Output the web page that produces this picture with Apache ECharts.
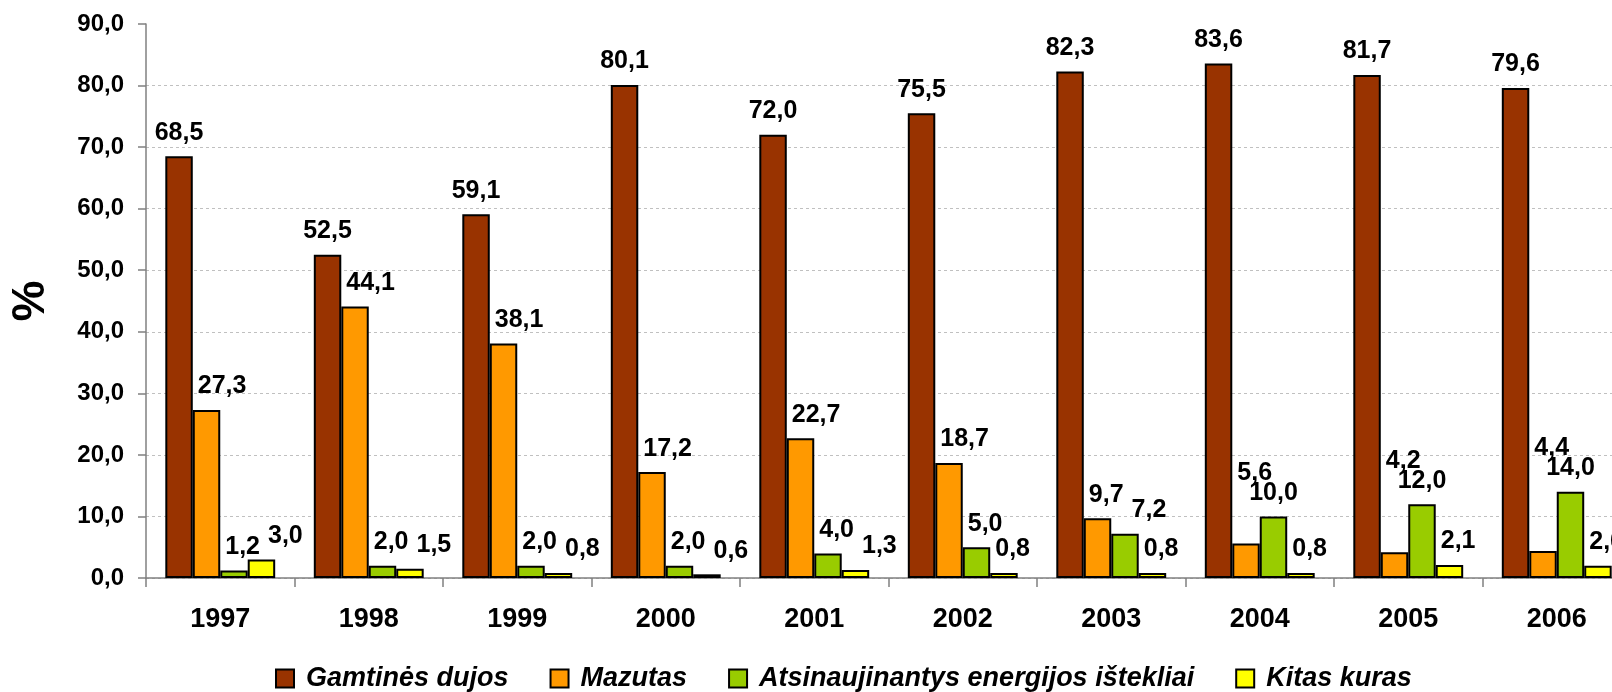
<!DOCTYPE html>
<html>
<head>
<meta charset="utf-8">
<script src="https://cdn.jsdelivr.net/npm/echarts@6/dist/echarts.min.js"></script>
<style>
  html, body { margin: 0; padding: 0; background: #ffffff; }
  #chart { width: 1612px; height: 692px; }
</style>
</head>
<body>
<div id="chart"></div>
<script>
const YEARS = ["1997", "1998", "1999", "2000", "2001", "2002", "2003", "2004", "2005", "2006"];
const GAS = [68.5, 52.5, 59.1, 80.1, 72.0, 75.5, 82.3, 83.6, 81.7, 79.6];
const MAZUT = [27.3, 44.1, 38.1, 17.2, 22.7, 18.7, 9.7, 5.6, 4.2, 4.4];
const RENEW = [1.2, 2.0, 2.0, 2.0, 4.0, 5.0, 7.2, 10.0, 12.0, 14.0];
const OTHER = [3.0, 1.5, 0.8, 0.6, 1.3, 0.8, 0.8, 0.8, 2.1, 2.0];
const Y_TICKS = [0, 10, 20, 30, 40, 50, 60, 70, 80, 90];

const NAMES = ["Gamtinės dujos", "Mazutas", "Atsinaujinantys energijos ištekliai", "Kitas kuras"];
const COLORS = ["#993300", "#ff9900", "#99cc00", "#ffff00"];
const SERIES_DATA = [GAS, MAZUT, RENEW, OTHER];

const FONT = '"Liberation Sans", Arial, sans-serif';
const LABEL_SIZE = 25;
const LABEL_DIST = 11;

// etiketės su kableliu
function fmt(v) {
  return Number(v).toFixed(1).replace(".", ",");
}

const chart = echarts.init(document.getElementById("chart"));
let shifts = SERIES_DATA.map(() => []);

function labelLayout(p) {
  const s = shifts[p.seriesIndex] && shifts[p.seriesIndex][p.dataIndex];
  return s ? { dx: s.dx, dy: s.dy } : {};
}

// Etikečių persidengimas: pirma pastumiam į dešinę nuo kairėje esančių
// stulpelių/etikečių, o jei dešinėje stovi aukštesnis stulpelis - keliam virš jo etiketės.
function computeShifts() {
  const model = chart.getModel();
  const ctx = document.createElement("canvas").getContext("2d");
  ctx.font = `bold ${LABEL_SIZE}px ${FONT}`;
  const H = 9, BAR_GAP = 5, LBL_GAP = 8, V_GAP = 2;
  const out = SERIES_DATA.map(() => []);

  YEARS.forEach((_, j) => {
    const bars = SERIES_DATA.map((_, i) => {
      const l = model.getSeriesByIndex(i).getData().getItemLayout(j);
      return { x0: l.x, x1: l.x + l.width, top: Math.min(l.y, l.y + l.height) };
    });
    const nat = bars.map((b, i) => {
      const w = ctx.measureText(fmt(SERIES_DATA[i][j])).width;
      const cx = (b.x0 + b.x1) / 2;
      return { x0: cx - w / 2, x1: cx + w / 2, cy: b.top - LABEL_DIST - LABEL_SIZE / 2 };
    });
    const placed = [];
    const overlapX = (a, b) => a.x0 < b.x1 && a.x1 > b.x0;

    nat.forEach((n, i) => {
      const box = { x0: n.x0, x1: n.x1, cy: n.cy };
      for (let pass = 0; pass < 4; pass++) {
        let need = 0;
        for (let k = 0; k < i; k++) {
          const bar = bars[k];
          if (box.cy + H > bar.top && box.x0 < bar.x1 && box.x1 > bar.x0) {
            need = Math.max(need, bar.x1 + BAR_GAP - box.x0);
          }
          const p = placed[k];
          if (Math.abs(p.cy - box.cy) < 2 * H && overlapX(box, p)) {
            need = Math.max(need, p.x1 + LBL_GAP - box.x0);
          }
        }
        if (need <= 0) break;
        box.x0 += need;
        box.x1 += need;
      }
      for (let k = i + 1; k < nat.length; k++) {
        const bar = bars[k];
        if (box.cy + H > bar.top && box.x1 > bar.x0 && box.x0 < bar.x1) {
          box.cy = Math.min(box.cy, nat[k].cy - 2 * H - V_GAP);
        }
      }
      placed[i] = box;
      out[i][j] = { dx: box.x0 - n.x0, dy: box.cy - n.cy };
    });
  });
  return out;
}

const series = SERIES_DATA.map((data, i) => ({
  name: NAMES[i],
  type: "bar",
  data,
  barGap: "0%",
  barCategoryGap: "26%",
  itemStyle: { color: COLORS[i], borderColor: "#000000", borderWidth: 2 },
  label: {
    show: true,
    position: "top",
    distance: LABEL_DIST,
    color: "#000000",
    fontFamily: FONT,
    fontWeight: "bold",
    fontSize: LABEL_SIZE,
    formatter: ({ value }) => fmt(value),
  },
  labelLayout,
}));

chart.setOption({
  animation: false,
  textStyle: { fontFamily: FONT },
  grid: { left: 146, right: -19, top: 24, bottom: 114, containLabel: false, outerBoundsMode: "none" },
  legend: {
    left: 275,
    top: 665,
    padding: 0,
    itemWidth: 18,
    itemHeight: 18,
    itemGap: 41,
    icon: "rect",
    itemStyle: { borderColor: "#000000", borderWidth: 2 },
    textStyle: {
      fontFamily: FONT,
      fontSize: 27,
      fontWeight: "bold",
      fontStyle: "italic",
      color: "#000000",
      padding: [0, 0, 0, 7],
    },
    data: NAMES,
  },
  xAxis: {
    type: "category",
    data: YEARS,
    axisLine: { lineStyle: { color: "#808080", width: 1.5 } },
    axisTick: { show: true, length: 9, interval: 0, lineStyle: { color: "#808080", width: 1.5 } },
    axisLabel: {
      interval: 0,
      margin: 28,
      color: "#000000",
      fontFamily: FONT,
      fontWeight: "bold",
      fontSize: 27,
    },
  },
  yAxis: {
    type: "value",
    min: Y_TICKS[0],
    max: Y_TICKS[Y_TICKS.length - 1],
    interval: Y_TICKS[1] - Y_TICKS[0],
    name: "%",
    nameLocation: "middle",
    nameRotate: 90,
    nameGap: 92,
    nameTextStyle: { fontFamily: FONT, fontSize: 46, fontWeight: "bold", color: "#000000" },
    axisLine: { show: true, lineStyle: { color: "#808080", width: 1.5 } },
    axisTick: { show: true, length: 8, lineStyle: { color: "#808080", width: 1.5 } },
    axisLabel: {
      margin: 22,
      color: "#000000",
      fontFamily: FONT,
      fontWeight: "bold",
      fontSize: 24,
      formatter: (v) => fmt(v),
    },
    splitLine: {
      show: true,
      showMaxLine: false,
      lineStyle: { color: "#c0c0c0", type: [3, 3], width: 1 },
    },
  },
  series,
});

try {
  shifts = computeShifts();
  chart.setOption({ series: SERIES_DATA.map(() => ({ labelLayout })) });
} catch (e) {
  console.error(e);
}
</script>
</body>
</html>
